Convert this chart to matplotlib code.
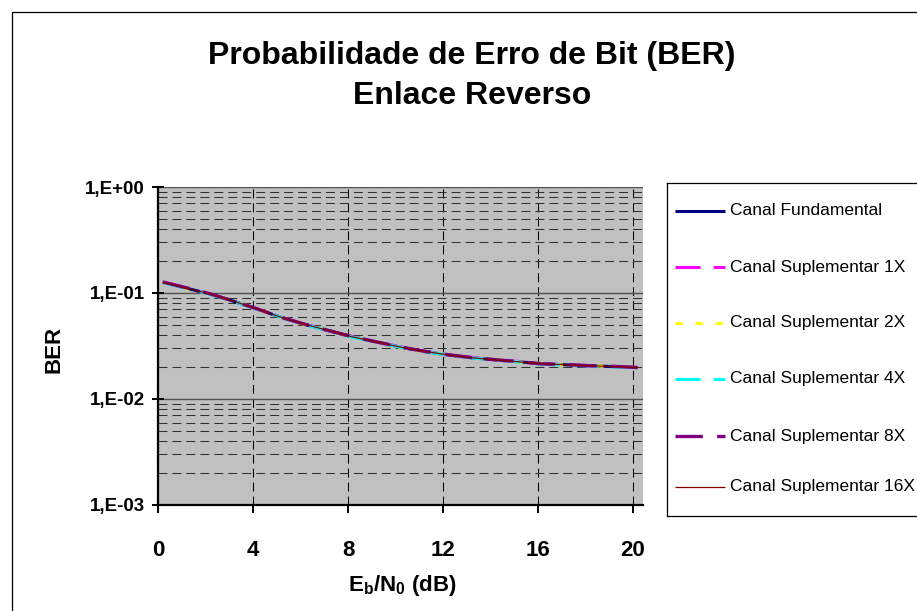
import matplotlib
matplotlib.use("Agg")
import matplotlib.pyplot as plt
from matplotlib.patches import Rectangle
from matplotlib.ticker import FixedLocator, LogLocator, NullFormatter

plt.rcParams['font.family'] = ['Liberation Sans', 'DejaVu Sans']
plt.rcParams['mathtext.fontset'] = 'custom'
plt.rcParams['mathtext.bf'] = 'Liberation Sans:bold'
plt.rcParams['mathtext.rm'] = 'Liberation Sans'

# Eb/N0 (dB)
ebn0 = [0.2, 1.2, 2.2, 3.2, 4.2, 5.2, 6.2, 7.2, 8.2, 9.2, 10.2,
        11.2, 12.2, 13.2, 14.2, 15.2, 16.2, 17.2, 18.2, 19.2, 20.2]

# BER per channel
ber_fund = [0.126, 0.111, 0.0977, 0.0834, 0.0703, 0.0587, 0.0504, 0.0440, 0.0385, 0.0345, 0.0309,
            0.0281, 0.0261, 0.0245, 0.0234, 0.0224, 0.0215, 0.0210, 0.0206, 0.0202, 0.0198]
ber_1x = [0.127, 0.112, 0.0980, 0.0830, 0.0700, 0.0590, 0.0507, 0.0438, 0.0387, 0.0343, 0.0311,
          0.0283, 0.0259, 0.0247, 0.0232, 0.0226, 0.0213, 0.0211, 0.0204, 0.0203, 0.0197]
ber_2x = [0.126, 0.110, 0.0975, 0.0838, 0.0705, 0.0585, 0.0502, 0.0443, 0.0383, 0.0347, 0.0307,
          0.0279, 0.0263, 0.0243, 0.0236, 0.0222, 0.0216, 0.0208, 0.0207, 0.0201, 0.0199]
ber_4x = [0.125, 0.111, 0.0970, 0.0832, 0.0698, 0.0589, 0.0500, 0.0441, 0.0382, 0.0344, 0.0308,
          0.0280, 0.0260, 0.0244, 0.0233, 0.0223, 0.0212, 0.0209, 0.0205, 0.0200, 0.0197]
ber_8x = [0.127, 0.112, 0.0982, 0.0836, 0.0706, 0.0588, 0.0506, 0.0442, 0.0386, 0.0346, 0.0310,
          0.0282, 0.0262, 0.0246, 0.0235, 0.0225, 0.0214, 0.0211, 0.0206, 0.0203, 0.0198]
ber_16x = [0.126, 0.111, 0.0978, 0.0835, 0.0704, 0.0588, 0.0505, 0.0441, 0.0385, 0.0345, 0.0309,
           0.0282, 0.0261, 0.0245, 0.0234, 0.0224, 0.0215, 0.0210, 0.0206, 0.0202, 0.0198]

labels = ["Canal Fundamental", "Canal Suplementar 1X", "Canal Suplementar 2X",
          "Canal Suplementar 4X", "Canal Suplementar 8X", "Canal Suplementar 16X"]
series = [ber_fund, ber_1x, ber_2x, ber_4x, ber_8x, ber_16x]

x_ticks = [0, 4, 8, 12, 16, 20]
y_ticks = [1e-3, 1e-2, 1e-1, 1e0]
y_ticklabels = ["1,E-03", "1,E-02", "1,E-01", "1,E+00"]

styles = [
    dict(color="#000080", lw=2.2, ls="-"),
    dict(color="#FF00FF", lw=2.2, ls=(0, (8.2, 4.3))),
    dict(color="#FFFF00", lw=2.2, ls=(0, (2.3, 4.3))),
    dict(color="#00FFFF", lw=2.2, ls=(0, (8.2, 4.3))),
    dict(color="#800080", lw=2.4, ls=(0, (8.2, 4.3))),
    dict(color="#800000", lw=0.9, ls="-"),
]

W, H = 917, 611
fig = plt.figure(figsize=(W / 100, H / 100), dpi=100)
fig.patch.set_facecolor("white")

# outer chart border
fig.add_artist(Rectangle((12 / W, -0.05), 1.1, (H - 12) / H + 0.05,
                         transform=fig.transFigure, fill=False,
                         edgecolor="black", lw=0.9))

ax = fig.add_axes([158 / W, (H - 505) / H, (643 - 158) / W, (505 - 187) / H])
ax.set_facecolor("#C0C0C0")
ax.set_yscale("log")
ax.set_xlim(0, 20.42)
ax.set_ylim(1e-3, 1)

for ys, st, lab in zip(series, styles, labels):
    ax.plot(ebn0, ys, color=st["color"], lw=st["lw"], linestyle=st["ls"],
            label=lab, solid_capstyle="butt", dash_capstyle="butt")

# grid
ax.yaxis.set_major_locator(FixedLocator(y_ticks))
ax.yaxis.set_minor_locator(LogLocator(base=10, subs=range(2, 10)))
ax.yaxis.set_minor_formatter(NullFormatter())
ax.set_yticklabels(y_ticklabels)
ax.set_xticks(x_ticks)
ax.set_xticklabels([str(v) for v in x_ticks])
ax.grid(True, which="major", axis="y", color="#505050", lw=1.0, ls="-")
ax.grid(True, which="minor", axis="y", color="#303030", lw=0.75, ls=(0, (8.6, 4.8)))
ax.grid(True, which="major", axis="x", color="black", lw=0.75, ls=(0, (8.6, 4.8)))
ax.set_axisbelow(True)

for side in ("top", "right"):
    ax.spines[side].set_visible(False)
for side in ("left", "bottom"):
    ax.spines[side].set_linewidth(1.6)
    ax.spines[side].set_color("black")

ax.tick_params(axis="y", which="major", direction="inout", length=9, width=1.4,
               pad=5, labelsize=13.5)
ax.tick_params(axis="y", which="minor", length=0)
ax.tick_params(axis="x", which="major", direction="out", length=6, width=1.4,
               pad=19, labelsize=16)
for t in ax.get_xticklabels() + ax.get_yticklabels():
    t.set_fontweight("bold")

fig.text(54 / W, 1 - 349 / H, "BER", rotation=90, ha="center", va="center",
         fontsize=16, fontweight="bold")
fig.text(402 / W, 1 - 586 / H, r"E$_\mathbf{b}$/N$_\mathbf{0}$ (dB)", ha="center", va="center",
         fontsize=16, fontweight="bold")
fig.text(472 / W, 1 - 76 / H, "Probabilidade de Erro de Bit (BER)\nEnlace Reverso",
         ha="center", va="center", fontsize=23, fontweight="bold", linespacing=1.45)

# legend box
lx0, ly0, lx1, ly1 = 667, 183, 940, 516
lax = fig.add_axes([lx0 / W, (H - ly1) / H, (lx1 - lx0) / W, (ly1 - ly0) / H])
lax.set_xlim(0, lx1 - lx0)
lax.set_ylim(ly1 - ly0, 0)
lax.set_xticks([])
lax.set_yticks([])
lax.set_facecolor("white")
for s in lax.spines.values():
    s.set_linewidth(0.9)
    s.set_color("black")
row_y = [210.7, 267, 323, 379, 436, 486.7]
for ry, st, lab in zip(row_y, styles, labels):
    yy = ry - ly0
    lax.plot([8, 58], [yy, yy], color=st["color"], lw=st["lw"], linestyle=st["ls"],
             solid_capstyle="butt", dash_capstyle="butt")
    lax.text(63, yy, lab, ha="left", va="center", fontsize=12.5)

fig.savefig("out.png", dpi=100)
